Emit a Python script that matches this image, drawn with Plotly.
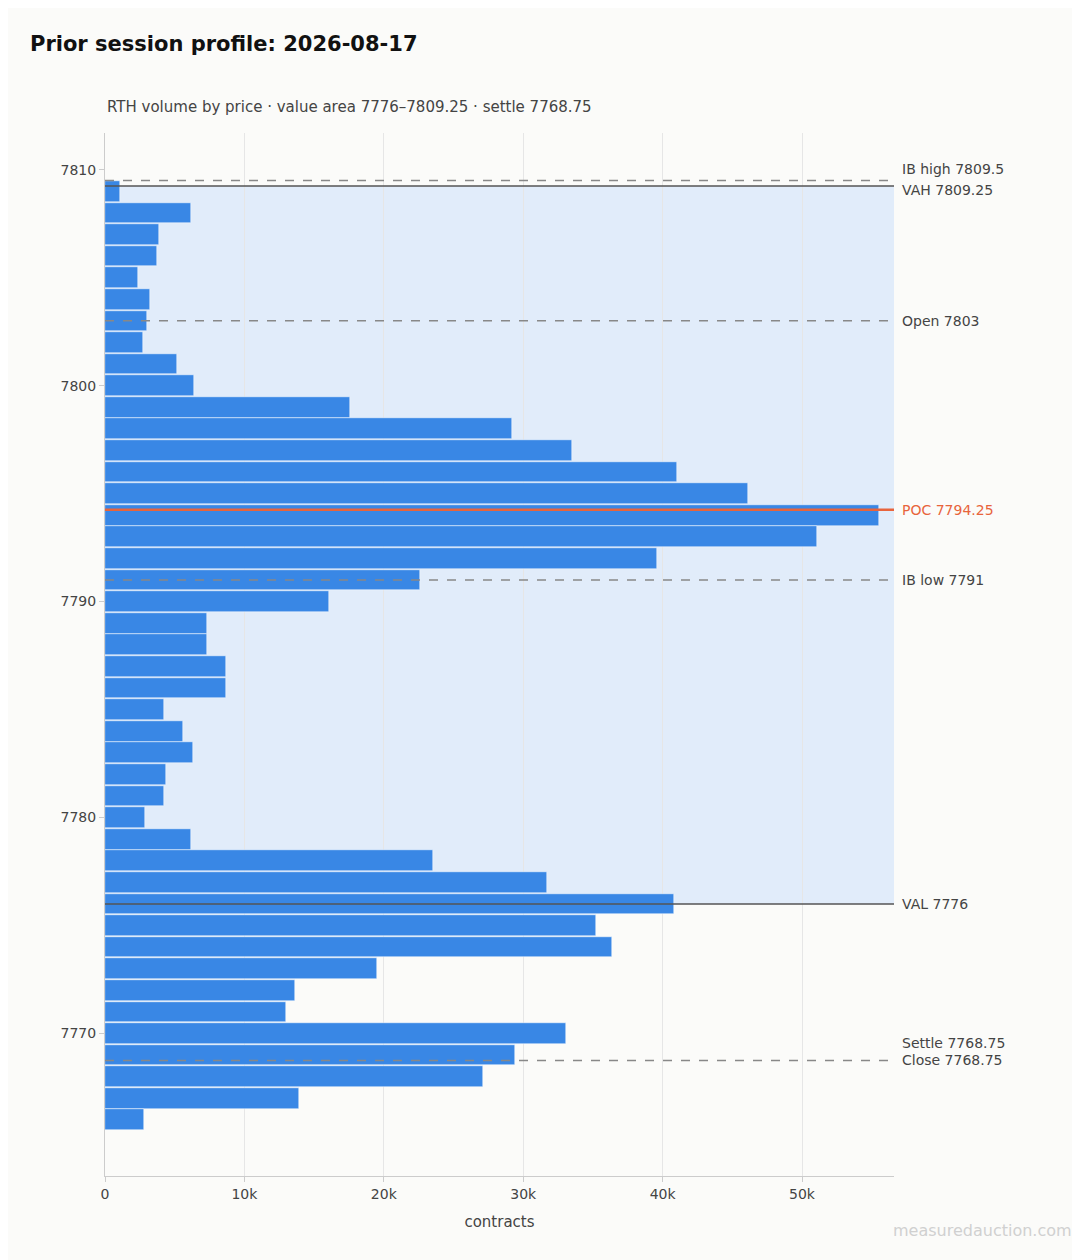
import plotly.graph_objects as go

prices = list(range(7809, 7765, -1))
volumes = [1100, 6200, 3900, 3700, 2400, 3200, 3000, 2700, 5200, 6400,
           17600, 29200, 33500, 41000, 46100, 55500, 51100, 39600, 22600, 16100,
           7300, 7300, 8700, 8700, 4200, 5600, 6300, 4400, 4200, 2900,
           6200, 23500, 31700, 40800, 35200, 36400, 19500, 13600, 13000, 33100,
           29400, 27100, 13900, 2800]

vah, val, poc = 7809.25, 7776, 7794.25
dashed_levels = [("IB high 7809.5", 7809.5, 0), ("Open 7803", 7803, 0),
                 ("IB low 7791", 7791, 0), ("Close 7768.75", 7768.75, 0)]
solid_levels = [("VAH 7809.25", vah), ("VAL 7776", val)]
settle = 7768.75

bg = "#fbfbf9"
fig = go.Figure()
fig.add_shape(type="rect", xref="paper", yref="y", x0=0, x1=1, y0=val, y1=vah,
              fillcolor="#e1ecfa", line_width=0, layer="below")
fig.add_trace(go.Bar(x=volumes, y=prices, orientation="h", width=0.96,
                     marker=dict(color="#3987e5", line=dict(color="white", width=0.5)),
                     showlegend=False))

for label, y, _ in dashed_levels:
    fig.add_shape(type="line", xref="paper", x0=0, x1=1, y0=y, y1=y,
                  line=dict(color="#888888", width=1.5, dash="dash"))
for label, y in solid_levels:
    fig.add_shape(type="line", xref="paper", x0=0, x1=1, y0=y, y1=y,
                  line=dict(color="#555555", width=1.5))
fig.add_shape(type="line", xref="paper", x0=0, x1=1, y0=poc, y1=poc,
              line=dict(color="#e8643c", width=2.5))

labels = [("IB high 7809.5", 7809.5 + 0.55, "#444"), ("VAH 7809.25", 7809.25 - 0.2, "#444"),
          ("Open 7803", 7803, "#444"), ("POC 7794.25", poc, "#e8643c"),
          ("IB low 7791", 7791, "#444"), ("VAL 7776", val, "#444"),
          ("Settle 7768.75", settle + 0.8, "#444"), ("Close 7768.75", 7768.75, "#444")]
for text, y, c in labels:
    fig.add_annotation(x=1, xref="paper", y=y, yref="y", text=text, showarrow=False,
                       xanchor="left", xshift=6, font=dict(size=14, color=c))

fig.add_annotation(x=-97 / 789, xref="paper", y=1240 / 1260, yref="paper",
                   text="<b>Prior session profile: 2026-08-17</b>", showarrow=False,
                   xanchor="left", yanchor="middle")
fig.update_layout(
    width=1080, height=1260, paper_bgcolor=bg, plot_bgcolor=bg,
    margin=dict(l=97, r=194, t=125, b=92),
    font=dict(family="DejaVu Sans", size=14, color="#444"),
    title=dict(text="<b>Prior session profile: 2026-08-17</b>", x=22 / 1080, y=1 - 36 / 1260,
               xanchor="left", yanchor="middle", font=dict(size=21, color="#111")),
    bargap=0,
    xaxis=dict(range=[0, 56600], showgrid=True, gridcolor="#e6e6e6", zeroline=False,
               title=dict(text="contracts", font=dict(size=15)), ticks="outside",
               ticklen=5, tickcolor="#ccc", showline=True, linecolor="#ccc",
               tickvals=[0, 10000, 20000, 30000, 40000, 50000]),
    yaxis=dict(range=[7763.4, 7811.7], showgrid=False, zeroline=False,
               tickvals=[7770, 7780, 7790, 7800, 7810], ticks="outside", ticklen=5,
               tickcolor="#ccc", showline=True, linecolor="#ccc"),
)
fig.layout.annotations = fig.layout.annotations[:-1]
fig.add_annotation(x=0, xref="paper", y=1 + 26 / 1043, yref="paper",
                   text="RTH volume by price · value area 7776–7809.25 · settle 7768.75",
                   showarrow=False, xanchor="left", yanchor="middle",
                   font=dict(size=15, color="#444"))
fig.add_annotation(x=1, xref="paper", y=0, yref="paper", xshift=180, yshift=-66,
                   text="measuredauction.com", showarrow=False, xanchor="right",
                   font=dict(size=16, color="#d0d0d0"))
fig.write_html("out.html")
